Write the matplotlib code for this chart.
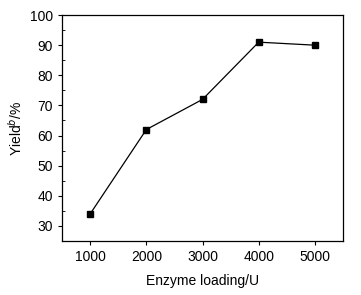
import matplotlib
matplotlib.use("Agg")
import matplotlib.pyplot as plt
from matplotlib.ticker import MultipleLocator

plt.rcParams['font.family'] = ['Liberation Sans', 'DejaVu Sans']

enzyme_loading = [1000, 2000, 3000, 4000, 5000]
yield_pct = [34, 62, 72, 91, 90]

fig = plt.figure(figsize=(3.61, 2.95), dpi=100)
ax = fig.add_axes([0.172, 0.183, 0.778, 0.766])
ax.plot(enzyme_loading, yield_pct, color='black', lw=0.9, marker='s', ms=5)

ax.set_xlim(500, 5500)
ax.set_ylim(25, 100)
ax.xaxis.set_major_locator(MultipleLocator(1000))
ax.yaxis.set_major_locator(MultipleLocator(10))
ax.yaxis.set_minor_locator(MultipleLocator(5))
ax.tick_params(axis='both', which='major', direction='out', length=3, width=0.8, labelsize=10)
ax.tick_params(axis='y', which='minor', direction='in', length=2, width=0.6)
for s in ax.spines.values():
    s.set_linewidth(0.9)

ax.set_xlabel('Enzyme loading/U', fontsize=10, labelpad=7)
ax.set_ylabel('Yield$^{\\it{b}}$/%', fontsize=10, labelpad=4)

fig.savefig('out.png', dpi=100)
